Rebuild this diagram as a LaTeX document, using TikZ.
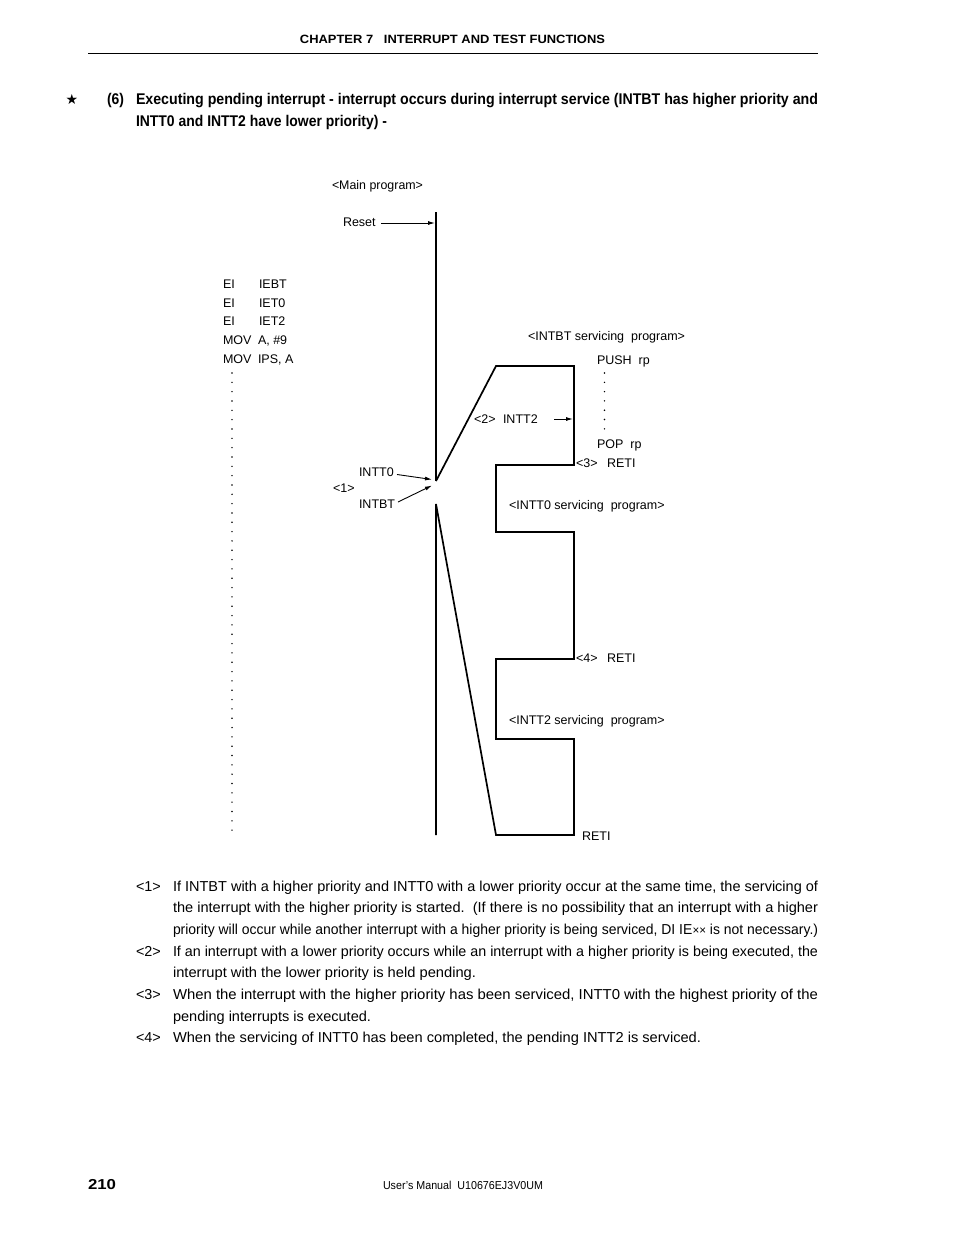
\documentclass[tikz,border=0pt]{standalone}
\usepackage{fontspec}
\usepackage{graphicx}
\setmainfont{Liberation Sans}
\newfontfamily\symfont{DejaVu Sans}
\usetikzlibrary{arrows.meta}
\newcommand{\fitto}[2]{\resizebox{#1}{\height}{#2}}
\newcommand{\bodyfs}{\fontsize{14.4}{17}\selectfont}
\newcommand{\labfs}{\fontsize{12.5}{15}\selectfont}
\newcommand{\titfs}{\fontsize{15.5}{18}\selectfont\bfseries}
\tikzset{
  txt/.style={anchor=base west, inner sep=0pt, outer sep=0pt},
  lab/.style={txt, font=\labfs},
  body/.style={txt, font=\bodyfs},
  flow/.style={line width=1.7pt, line join=miter},
  pointer/.style={line width=0.9pt, -{Latex[length=7pt,width=4pt]}},
}
\begin{document}
\begin{tikzpicture}[x=1pt,y=-1pt]
\fill[white] (0,0) rectangle (954,1235);
\useasboundingbox (0,0) rectangle (954,1235);

% header
\node[txt, anchor=base] (hdr) at (452.5,43) {\fontsize{12}{14}\selectfont\bfseries\fitto{305pt}{CHAPTER 7\ \ \ INTERRUPT AND TEST FUNCTIONS}};
\draw[line width=1pt] (88,53) -- (818,53);

% title
\node[anchor=center, inner sep=0pt] (star) at (72,99) {\symfont\fontsize{14}{16}\selectfont ★};
\node[txt, font=\titfs] (t6) at (107,104) {\fitto{17pt}{(6)}};
\node[txt, font=\titfs] (t1) at (136,104) {\fitto{682pt}{Executing pending interrupt - interrupt occurs during interrupt service (INTBT has higher priority and}};
\node[txt, font=\titfs] (t2) at (136,126) {\fitto{251pt}{INTT0 and INTT2 have lower priority) -}};

% main program labels
\node[lab] (mainp) at (332,189) {\fitto{91pt}{<Main program>}};
\node[lab] (reset) at (343,226.5) {Reset};

% code column
\node[lab] (c1a) at (223,288.5) {EI};   \node[lab] (c1b) at (259,288.5) {IEBT};
\node[lab] (c2a) at (223,307.5) {EI};   \node[lab] (c2b) at (259,307.5) {IET0};
\node[lab] (c3a) at (223,325.5) {EI};   \node[lab] (c3b) at (259,325.5) {IET2};
\node[lab] (c4a) at (223,344.5) {MOV};  \node[lab] (c4b) at (258,344.5) {A, \#9};
\node[lab] (c5a) at (223,363.5) {MOV};  \node[lab] (c5b) at (258,363.5) {IPS, A};
\foreach \i in {0,...,49} {
  \fill (232,373+\i*9.33) circle (0.8pt);
}

% flow coordinates
\coordinate (mainTop) at (436,212);
\coordinate (j) at (436,481);
\coordinate (l0) at (436,504);
\coordinate (mainBot) at (436,835);
\coordinate (p1) at (496,366);
\coordinate (p2) at (574,366);
\coordinate (p3) at (574,465);
\coordinate (p4) at (496,465);
\coordinate (p5) at (496,532);
\coordinate (p6) at (574,532);
\coordinate (p7) at (574,659);
\coordinate (p8) at (496,659);
\coordinate (p9) at (496,739);
\coordinate (p10) at (574,739);
\coordinate (p11) at (574,835);
\coordinate (p12) at (496,835);

\draw[flow] (mainTop) -- (j);
\draw[flow] (j) -- (p1) -- (p2) -- (p3) -- (p4) -- (p5) -- (p6) -- (p7) -- (p8) -- (p9) -- (p10) -- (p11) -- (p12) -- (l0) -- (mainBot);

% reset arrow
\coordinate (resetS) at (381,223);
\coordinate (resetE) at (435,223);
\draw[pointer] (resetS) -- (resetE);

% <1> INTT0 / INTBT
\node[lab] (intt0) at (359,476.5) {INTT0};
\node[lab] (one) at (333,492.5) {<1>};
\node[lab] (intbt) at (359,508.5) {INTBT};
\coordinate (a0s) at (397,474.5);
\coordinate (a0e) at (432,479.5);
\coordinate (abs) at (398,502);
\coordinate (abe) at (432,485.5);
\draw[pointer] (a0s) -- (a0e);
\draw[pointer] (abs) -- (abe);

% <2> INTT2
\node[lab] (two) at (474,423) {<2>};
\node[lab] (intt2) at (503,423) {INTT2};
\coordinate (a2s) at (554,419);
\coordinate (a2e) at (573,419);
\draw[pointer] (a2s) -- (a2e);

% INTBT servicing
\node[lab] (intbtsv) at (528,340.5) {<INTBT servicing\ \ program>};
\node[lab] (push) at (597,364.5) {PUSH\ \ rp};
\foreach \i in {0,...,6} {
  \fill (604.5,373+\i*9.3) circle (0.8pt);
}
\node[lab] (pop) at (597,448.5) {POP\ \ rp};
\node[lab] (three) at (576,467.5) {<3>};
\node[lab] (reti1) at (607,467.5) {RETI};

% INTT0 servicing
\node[lab] (intt0sv) at (509,509.5) {<INTT0 servicing\ \ program>};
\node[lab] (four) at (576,662.5) {<4>};
\node[lab] (reti2) at (607,662.5) {RETI};

% INTT2 servicing
\node[lab] (intt2sv) at (509,724.5) {<INTT2 servicing\ \ program>};
\node[lab] (reti3) at (582,840.5) {RETI};

% notes
\node[body] (n1) at (136,891) {<1>};
\node[body] (n1a) at (173,891) {\fitto{645pt}{If INTBT with a higher priority and INTT0 with a lower priority occur at the same time, the servicing of}};
\node[body] (n1b) at (173,912.7) {\fitto{645pt}{the interrupt with the higher priority is started.\ \ (If there is no possibility that an interrupt with a higher}};
\node[body] (n1c) at (173,934.4) {\fitto{645pt}{priority will occur while another interrupt with a higher priority is being serviced, DI IE{\fontsize{12}{14}\selectfont××} is not necessary.)}};
\node[body] (n2) at (136,956) {<2>};
\node[body] (n2a) at (173,956) {\fitto{645pt}{If an interrupt with a lower priority occurs while an interrupt with a higher priority is being executed, the}};
\node[body] (n2b) at (173,977.7) {\fitto{303pt}{interrupt with the lower priority is held pending.}};
\node[body] (n3) at (136,999.4) {<3>};
\node[body] (n3a) at (173,999.4) {\fitto{645pt}{When the interrupt with the higher priority has been serviced, INTT0 with the highest priority of the}};
\node[body] (n3b) at (173,1021.1) {\fitto{198pt}{pending interrupts is executed.}};
\node[body] (n4) at (136,1042.8) {<4>};
\node[body] (n4a) at (173,1042.8) {\fitto{528pt}{When the servicing of INTT0 has been completed, the pending INTT2 is serviced.}};

% footer
\node[txt] (pg) at (88,1189) {\fontsize{14.4}{17}\selectfont\bfseries\fitto{28pt}{210}};
\node[txt] (man) at (383,1189) {\fontsize{11.5}{14}\selectfont\fitto{160pt}{User's Manual\ \ U10676EJ3V0UM}};
\end{tikzpicture}
\end{document}
